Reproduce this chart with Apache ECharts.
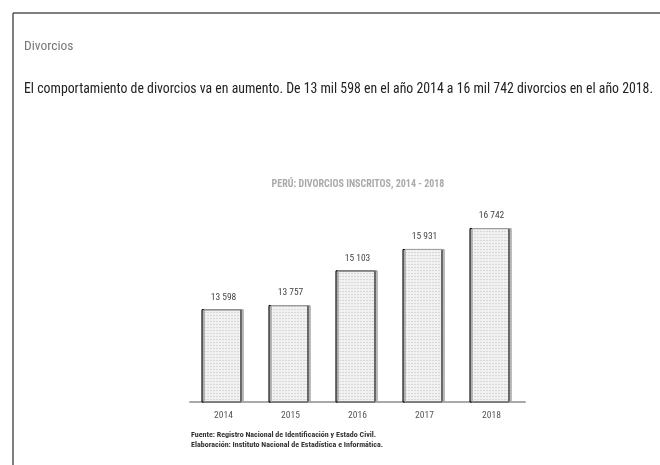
<!DOCTYPE html>
<html>
<head>
<meta charset="utf-8">
<script src="https://cdn.jsdelivr.net/npm/echarts@6/dist/echarts.min.js"></script>
<style>
html,body{margin:0;padding:0;background:#fff;}
#chart{width:660px;height:465px;}
</style>
</head>
<body>
<div id="chart"></div>
<script>
const categories = ['2014', '2015', '2016', '2017', '2018'];
const divorcios = [13598, 13757, 15103, 15931, 16742];
const heading = 'Divorcios';
const sentence = 'El comportamiento de divorcios va en aumento. De 13 mil 598 en el año 2014 a 16 mil 742 divorcios en el año 2018.';
const chartTitle = 'PERÚ: DIVORCIOS INSCRITOS, 2014 - 2018';
const sourceLines = ['Fuente: Registro Nacional de Identificación y Estado Civil.', 'Elaboración: Instituto Nacional de Estadística e Informática.'];

const NARROW = '"Liberation Sans Narrow", "Arial Narrow", "Roboto Condensed", "DejaVu Sans Condensed", sans-serif';
const fmt = v => String(v).replace(/\B(?=(\d{3})+(?!\d))/g, ' ');

const chart = echarts.init(document.getElementById('chart'));
chart.setOption({
  animation: false,
  backgroundColor: '#fff',
  grid: { left: 190, right: 135, top: 144, bottom: 63 },
  xAxis: {
    type: 'category',
    data: categories,
    axisLine: { lineStyle: { color: '#a8a8a8', width: 2, type: [2, 1] } },
    axisTick: { show: false },
    axisLabel: { color: '#555', fontSize: 9.5, fontFamily: NARROW, margin: 9 }
  },
  yAxis: { type: 'value', min: 10000, max: 20000, show: false, splitLine: { show: false } },
  series: [{
    type: 'bar',
    data: divorcios,
    barWidth: 40,
    itemStyle: {
      color: '#f1f1f1',
      borderColor: '#a5a5a5',
      borderWidth: 1,
      shadowColor: 'rgba(0,0,0,0.22)',
      shadowOffsetX: -2,
      shadowBlur: 0,
      decal: {
        symbol: 'rect',
        symbolSize: 1,
        color: 'rgba(0,0,0,0.10)',
        dashArrayX: [1, 2],
        dashArrayY: [1, 2],
        rotation: 0
      }
    },
    label: {
      show: true,
      position: 'top',
      distance: 7,
      color: '#444',
      fontSize: 9.5,
      fontFamily: NARROW,
      formatter: p => fmt(p.value)
    }
  }],
  graphic: [
    { type: 'line', shape: { x1: 13, y1: 13, x2: 660, y2: 13 }, style: { stroke: '#555', lineWidth: 1.5 } },
    { type: 'line', shape: { x1: 13, y1: 13, x2: 13, y2: 465 }, style: { stroke: '#555', lineWidth: 1.5 } },
    { type: 'text', left: 24, top: 40, style: { text: heading, fill: '#777', font: '13.5px ' + NARROW } },
    { type: 'text', left: 24, top: 83, style: { text: sentence, fill: '#222', font: '13.8px ' + NARROW } },
    { type: 'text', x: 358, y: 184, style: { text: chartTitle, fill: '#aaa', font: 'bold 10px ' + NARROW, align: 'center', verticalAlign: 'middle' } },
    { type: 'text', left: 191, top: 431, style: { text: sourceLines[0], fill: '#333', font: 'bold 8px ' + NARROW } },
    { type: 'text', left: 191, top: 441, style: { text: sourceLines[1], fill: '#333', font: 'bold 8px ' + NARROW } }
  ]
});
</script>
</body>
</html>
